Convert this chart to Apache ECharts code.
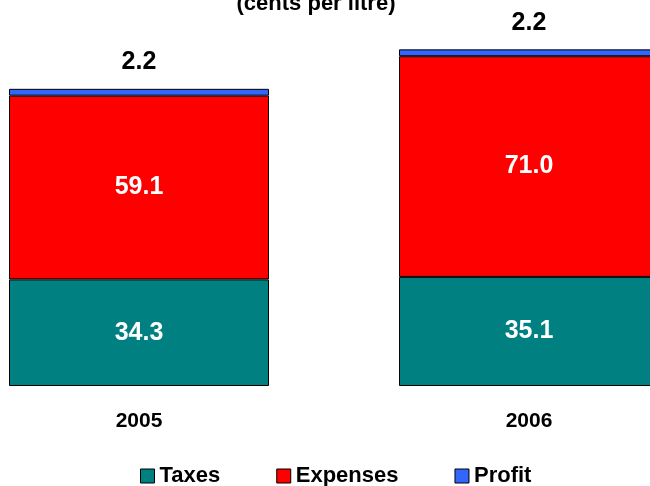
<!DOCTYPE html>
<html>
<head>
<meta charset="utf-8">
<script src="https://cdn.jsdelivr.net/npm/echarts@6/dist/echarts.min.js"></script>
<style>
  html, body { margin: 0; padding: 0; background: #fff; }
  #chart { width: 650px; height: 486px; }
</style>
</head>
<body>
<div id="chart"></div>
<script>
// Price components, cents per litre
const years = ['2005', '2006'];
const taxes = [34.3, 35.1];
const expenses = [59.1, 71.0];
const profit = [2.2, 2.2];

const FONT = '"Liberation Sans", Arial, sans-serif';
const edge = { borderColor: '#000', borderWidth: 1 };
const inside = {
  show: true, position: 'inside', color: '#fff',
  fontFamily: FONT, fontWeight: 'bold', fontSize: 25,
  formatter: p => p.value.toFixed(1)
};

const chart = echarts.init(document.getElementById('chart'));
chart.setOption({
  animation: false,
  title: {
    text: '(cents per litre)', left: 311, top: -12, textAlign: 'center',
    textStyle: { fontFamily: FONT, fontWeight: 'bold', fontSize: 22, color: '#000' }
  },
  legend: {
    left: 135, top: 460, itemWidth: 14, itemHeight: 14, itemGap: 56,
    icon: 'rect',
    itemStyle: { borderColor: '#000', borderWidth: 1 },
    textStyle: { fontFamily: FONT, fontWeight: 'bold', fontSize: 22, color: '#000' },
    data: ['Taxes', 'Expenses', 'Profit']
  },
  grid: { left: -56, width: 780, top: 13, bottom: 100, outerBoundsMode: 'none', containLabel: false },
  xAxis: {
    type: 'category', data: years,
    axisLine: { show: false }, axisTick: { show: false },
    axisLabel: { margin: 25, fontFamily: FONT, fontWeight: 'bold', fontSize: 21, color: '#000' }
  },
  yAxis: { type: 'value', min: 0, max: 120, show: false, splitLine: { show: false } },
  series: [
    { name: 'Taxes', type: 'bar', stack: 'p', data: taxes, barWidth: 260,
      itemStyle: Object.assign({ color: '#008080' }, edge), label: inside },
    { name: 'Expenses', type: 'bar', stack: 'p', data: expenses,
      itemStyle: Object.assign({ color: '#FF0000' }, edge), label: inside },
    { name: 'Profit', type: 'bar', stack: 'p', data: profit,
      itemStyle: Object.assign({ color: '#3366FF' }, edge),
      label: { show: true, position: 'top', distance: 14, color: '#000',
        fontFamily: FONT, fontWeight: 'bold', fontSize: 25,
        formatter: p => p.value.toFixed(1) } }
  ]
});
</script>
</body>
</html>
